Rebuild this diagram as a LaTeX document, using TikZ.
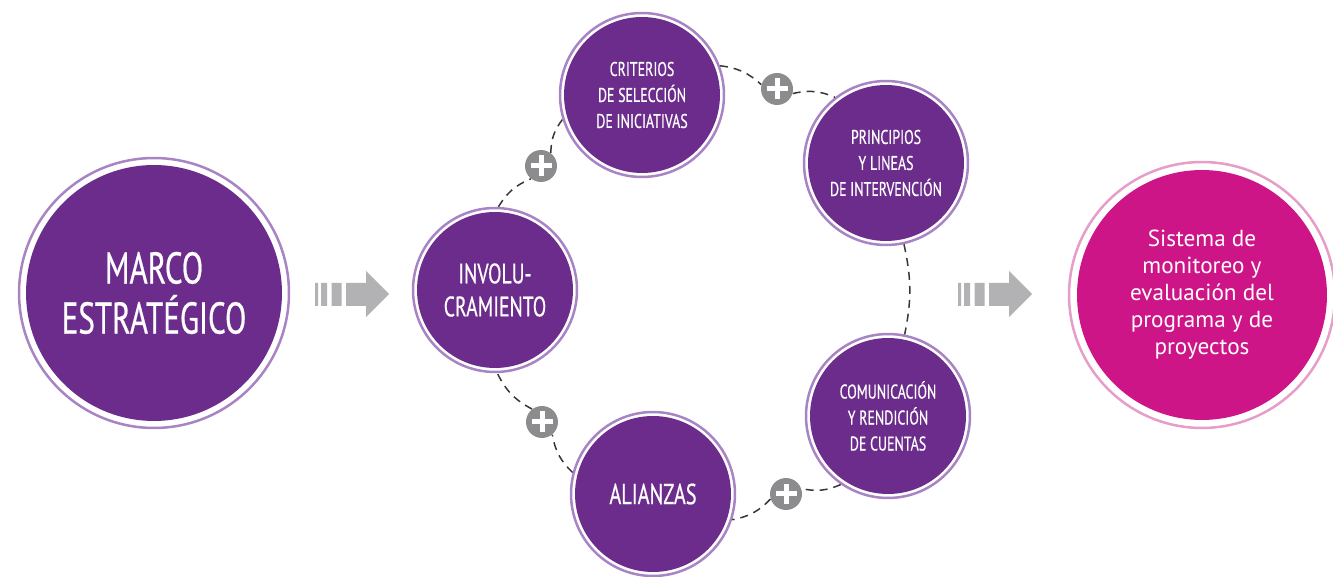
\documentclass[tikz,border=0pt]{standalone}
\usepackage{fontspec}
\setmainfont{PT Sans}
\newfontfamily\condfont[FakeStretch=0.7,FakeBold=0.5]{PT Sans}
\definecolor{mpurple}{RGB}{108,44,140}
\definecolor{mring}{RGB}{168,132,196}
\definecolor{mmagenta}{RGB}{206,21,136}
\definecolor{mpink}{RGB}{230,158,200}
\definecolor{mplus}{RGB}{140,140,142}
\definecolor{marrow}{RGB}{178,178,180}
\begin{document}
\begin{tikzpicture}
  [x=0.02cm,y=-0.02cm,
   ring/.style={circle,draw=mring,line width=0.05cm,fill=white,inner sep=0pt,align=center,text=white},
   big/.style={ring,minimum size=5.4cm,font=\condfont\fontsize{25.3}{28.5}\selectfont,
     path picture={\fill[mpurple] (path picture bounding box.center) circle (2.56cm);}},
   small/.style={ring,minimum size=3.28cm,font=\condfont\fontsize{11.3}{14.8}\selectfont,
     path picture={\fill[mpurple] (path picture bounding box.center) circle (1.56cm);}},
   goal/.style={ring,draw=mpink,minimum size=5.32cm,font=\fontsize{13.2}{15.4}\selectfont,
     path picture={\fill[mmagenta] (path picture bounding box.center) circle (2.5cm);}},
   plus/.style={circle,fill=mplus,minimum size=0.64cm,inner sep=0pt,
     path picture={\draw[white,line width=0.1cm]
       ([xshift=-0.21cm]path picture bounding box.center) -- ([xshift=0.21cm]path picture bounding box.center)
       ([yshift=-0.21cm]path picture bounding box.center) -- ([yshift=0.21cm]path picture bounding box.center);}},
   link/.style={draw={rgb,255:red,55;green,55;blue,55},line width=0.03cm,dash pattern=on 0.16cm off 0.12cm}]
  \useasboundingbox (0,0) rectangle (1333,577);

  \node[big] (0) at (154,293) {MARCO\\ESTRATÉGICO};
  \node[small,font=\condfont\fontsize{16}{18.8}\selectfont] (1) at (495,290) {INVOLU-\\CRAMIENTO};
  \node[small] (2) at (642,95) {CRITERIOS\\DE SELECCIÓN\\DE INICIATIVAS};
  \node[small] (3) at (886,163) {PRINCIPIOS\\Y LINEAS\\DE INTERVENCIÓN};
  \node[small] (4) at (888,416) {COMUNICACIÓN\\Y RENDICIÓN\\DE CUENTAS};
  \node[small,font=\condfont\fontsize{16.5}{18}\selectfont] (5) at (653,494) {ALIANZAS};
  \node[goal] (6) at (1202,295) {Sistema de\\monitoreo y\\evaluación del\\programa y de\\proyectos};

  \node[plus] (7) at (541,166) {};
  \node[plus] (8) at (777,89) {};
  \node[plus] (9) at (786,494) {};
  \node[plus] (10) at (542,422) {};

  \draw[link] (1) to[bend left=18] (7);
  \draw[link] (7) to[bend left=18] (2);
  \draw[link] (2) to[bend left=18] (8);
  \draw[link] (8) to[bend left=18] (3);
  \draw[link] (3) to[bend left=12] (4);
  \draw[link] (4) to[bend left=18] (9);
  \draw[link] (9) to[bend left=18] (5);
  \draw[link] (5) to[bend left=18] (10);
  \draw[link] (10) to[bend left=18] (1);

  % arrows
  \foreach \x in {315,958}{
    \fill[marrow] (\x,283) rectangle +(3,23) (\x+6,283) rectangle +(6,23) (\x+16.5,283) rectangle +(10,23);
    \fill[marrow] (\x+31,283) -- (\x+51,283) -- (\x+51,271) -- (\x+74,294)
      -- (\x+51,317) -- (\x+51,306) -- (\x+31,306) -- cycle;
  }
\end{tikzpicture}
\end{document}
